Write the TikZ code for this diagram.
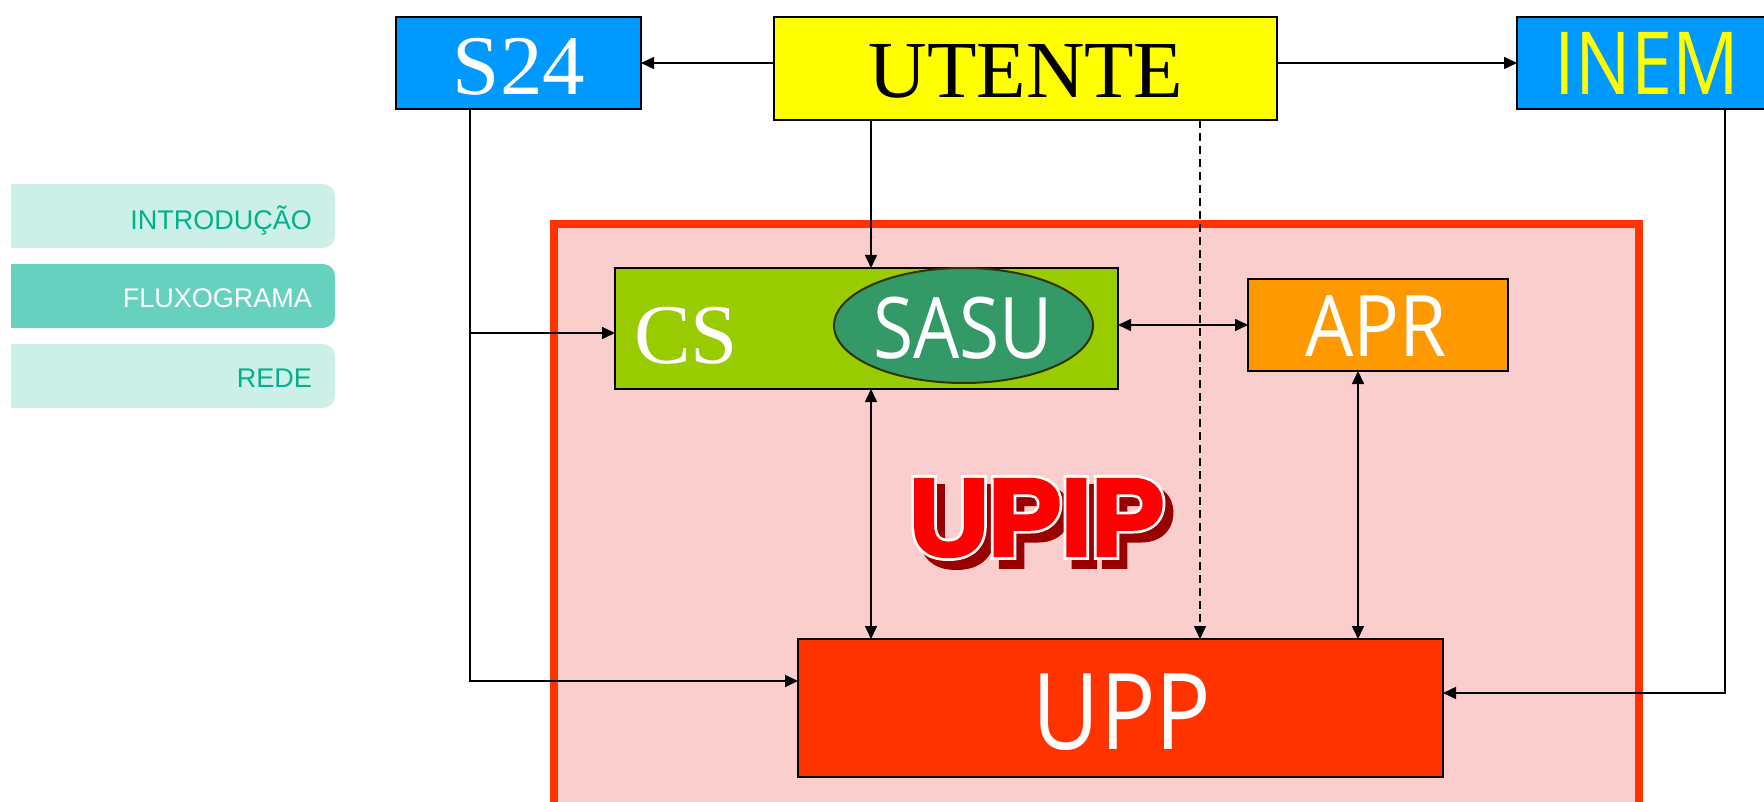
\documentclass[tikz,border=0pt]{standalone}
\usepackage{fontspec}
\usepackage{graphicx}
\setmainfont{Liberation Serif}
\newfontfamily\osans{Open Sans}
\newfontfamily\lsans{Liberation Sans}
\newfontfamily\upipcore[FakeBold=4]{Liberation Sans Bold}
\newfontfamily\upipouter[FakeBold=9]{Liberation Sans Bold}
\usetikzlibrary{arrows.meta,calc,shapes.geometric}
\definecolor{skyb}{RGB}{0,153,255}
\definecolor{yel}{RGB}{255,255,0}
\definecolor{csgreen}{RGB}{153,204,0}
\definecolor{sasugreen}{RGB}{51,153,102}
\definecolor{sasuborder}{RGB}{51,51,0}
\definecolor{aprorange}{RGB}{255,153,0}
\definecolor{uppred}{RGB}{255,51,0}
\definecolor{pinkfill}{RGB}{251,206,206}
\definecolor{upipred}{RGB}{255,0,0}
\definecolor{shadowred}{RGB}{153,0,0}
\definecolor{menul}{RGB}{204,240,232}
\definecolor{menud}{RGB}{102,209,191}
\definecolor{menutext}{RGB}{0,178,140}
\begin{document}
\begin{tikzpicture}[x=1pt,y=-1pt,
  box/.style={draw=black, line width=2pt, inner sep=0pt, outer sep=0pt},
  arr/.style={line width=1.6pt, -{Triangle[length=13pt,width=12pt]}},
  darr/.style={line width=1.6pt, {Triangle[length=13pt,width=12pt]}-{Triangle[length=13pt,width=12pt]}},
  lbl/.style={anchor=base, inner sep=0pt, outer sep=0pt},
  serifbig/.style={lbl, font=\fontsize{85}{85}\selectfont},
  sansbig/.style={lbl, font=\osans\fontsize{85}{85}\selectfont},
  menut/.style={anchor=base east, inner sep=0pt, font=\lsans\fontsize{27}{27}\selectfont}
]
\useasboundingbox (0,0) rectangle (1764,802);
\clip (0,0) rectangle (1764,802);

% menu
\fill[menul, rounded corners=12pt] (11,184) rectangle (335,248);
\fill[menul] (11,184) rectangle (60,248);
\fill[menud, rounded corners=12pt] (11,264) rectangle (335,328);
\fill[menud] (11,264) rectangle (60,328);
\fill[menul, rounded corners=12pt] (11,344) rectangle (335,408);
\fill[menul] (11,344) rectangle (60,408);
\node[menut, text=menutext] (m1) at (312,230) {INTRODUÇÃO};
\node[menut, text=white] (m2) at (312,308) {FLUXOGRAMA};
\node[menut, text=menutext] (m3) at (312,387) {REDE};

% UPIP area
\draw[draw=uppred, line width=8pt, fill=pinkfill] (554,224) rectangle (1639,812);

% boxes
\node[box, fill=skyb, minimum width=245pt, minimum height=92pt] (s24) at (518.5,63) {};
\node[serifbig, text=white] (s24t) at (519,95) {S24};
\node[box, fill=yel, minimum width=503pt, minimum height=103pt] (utente) at (1025.5,68.5) {};
\node[lbl, font=\fontsize{81}{81}\selectfont, text=black] (utentet) at (1026,98) {UTENTE};
\node[box, fill=skyb, minimum width=260pt, minimum height=92pt] (inem) at (1647,63) {};
\node[sansbig, font=\osans\fontsize{87}{87}\selectfont, text=yel] (inemt) at (1647,95) {\scalebox{0.85}[1]{INEM}};

\node[box, fill=csgreen, minimum width=503pt, minimum height=121pt] (cs) at (866.5,328.5) {};
\node[serifbig, text=white] (cst) at (686,363) {CS};
\node[ellipse, draw=sasuborder, line width=2pt, fill=sasugreen, inner sep=0pt, minimum width=259pt, minimum height=115pt] (sasu) at (963.5,325.5) {};
\node[sansbig, text=white] (sasut) at (963,358) {\scalebox{0.86}[1]{SASU}};
\node[box, fill=aprorange, minimum width=260pt, minimum height=92pt] (apr) at (1378,325) {};
\node[sansbig, text=white] (aprt) at (1376,356) {\scalebox{0.9}[1]{APR}};
\node[box, fill=uppred, minimum width=645pt, minimum height=138pt] (upp) at (1120.5,708) {};
\node[sansbig, font=\osans\fontsize{106}{106}\selectfont, text=white] (uppt) at (1122,749) {\scalebox{0.87}[1]{UPP}};

% UPIP title
\node[lbl, font=\upipouter\fontsize{109}{109}\selectfont, text=shadowred] (upips) at (1045,564) {UPIP};
\node[lbl, font=\upipouter\fontsize{109}{109}\selectfont, text=white] (upipw) at (1037,555) {UPIP};
\node[lbl, font=\upipcore\fontsize{109}{109}\selectfont, text=upipred] (upip) at (1037,555) {UPIP};

% connectors
\coordinate (ux) at (871,0);
\coordinate (dx) at (1200,0);
\coordinate (ax) at (1358,0);
\coordinate (s24low) at (470,681);
\coordinate (br) at (470,333);
\coordinate (inlow) at (1725,693);

\draw[arr] (utente.west |- s24.east) -- (s24.east);
\draw[arr] (utente.east |- inem.west) -- (inem.west);
\draw[arr] (utente.south -| ux) -- (cs.north -| ux);
\draw[arr, dash pattern=on 8pt off 5pt] (utente.south -| dx) -- (upp.north -| dx);
\draw[arr] (s24.south -| s24low) -- (s24low) -- (upp.west |- s24low);
\draw[arr] (br) -- (cs.west |- br);
\draw[arr] (inem.south -| inlow) -- (inlow) -- (upp.east |- inlow);
\draw[darr] (cs.south -| ux) -- (upp.north -| ux);
\draw[darr] (cs.east |- apr.west) -- (apr.west);
\draw[darr] (apr.south -| ax) -- (upp.north -| ax);
\end{tikzpicture}
\end{document}
